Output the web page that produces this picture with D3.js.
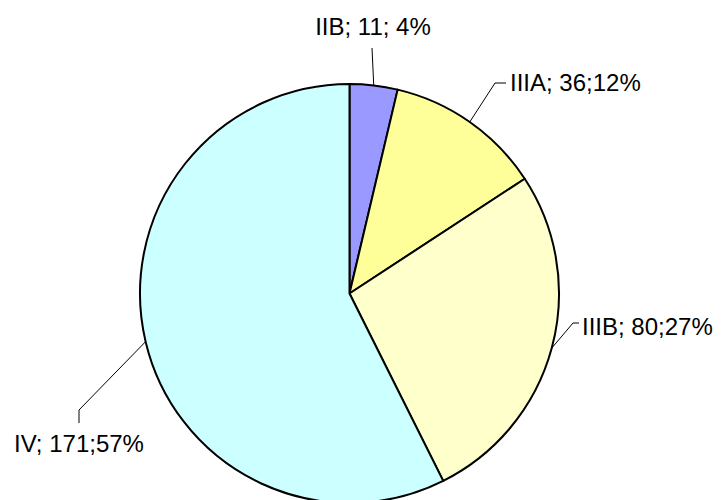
<!DOCTYPE html>
<html>
<head>
<meta charset="utf-8">
<script src="https://cdn.jsdelivr.net/npm/d3@7"></script>
<style>
  html, body { margin: 0; padding: 0; background: #fff; }
  svg { display: block; }
</style>
</head>
<body>
<svg id="chart" width="721" height="500"></svg>
<script>
// Data
const categories = ["IIB", "IIIA", "IIIB", "IV"];
const values = [11, 36, 80, 171];
const labels = ["IIB; 11; 4%", "IIIA; 36;12%", "IIIB; 80;27%", "IV; 171;57%"];
const colors = ["#9999FF", "#FFFF99", "#FFFFCC", "#CCFFFF"];

// Layout of label callouts (elbow point, line end, text anchor)
const labelLayout = [
  { elbow: [372, 48], end: [372, 48], text: [373, 35], anchor: "middle" },
  { elbow: [495, 83], end: [506, 83], text: [510, 91], anchor: "start" },
  { elbow: [573, 323], end: [579, 323], text: [582, 335], anchor: "start" },
  { elbow: [79, 410], end: [79, 423], text: [79, 452], anchor: "middle" }
];

const svg = d3.select("#chart");
const cx = 349.5, cy = 293.5, r = 209.5;

const pie = d3.pie().sort(null).value(d => d.value);
const arcs = pie(categories.map((c, i) => ({ cat: c, value: values[i], i })));
const arc = d3.arc().innerRadius(0).outerRadius(r);

const g = svg.append("g").attr("transform", `translate(${cx},${cy})`);

g.selectAll("path.slice")
  .data(arcs)
  .enter().append("path")
  .attr("class", "slice")
  .attr("d", arc)
  .attr("fill", d => colors[d.data.i])
  .attr("stroke", "#000")
  .attr("stroke-width", 2)
  .attr("stroke-linejoin", "round");

// Leader lines
arcs.forEach(d => {
  const mid = (d.startAngle + d.endAngle) / 2;
  const sx = cx + r * Math.sin(mid);
  const sy = cy - r * Math.cos(mid);
  const L = labelLayout[d.data.i];
  const pts = [[sx, sy], L.elbow, L.end];
  svg.append("path")
    .attr("d", d3.line()(pts))
    .attr("fill", "none")
    .attr("stroke", "#000")
    .attr("stroke-width", 1);
  svg.append("text")
    .attr("x", L.text[0])
    .attr("y", L.text[1])
    .attr("text-anchor", L.anchor)
    .attr("font-family", "'Liberation Sans', Arial, sans-serif")
    .attr("font-size", 24)
    .attr("fill", "#000")
    .text(labels[d.data.i]);
});
</script>
</body>
</html>
